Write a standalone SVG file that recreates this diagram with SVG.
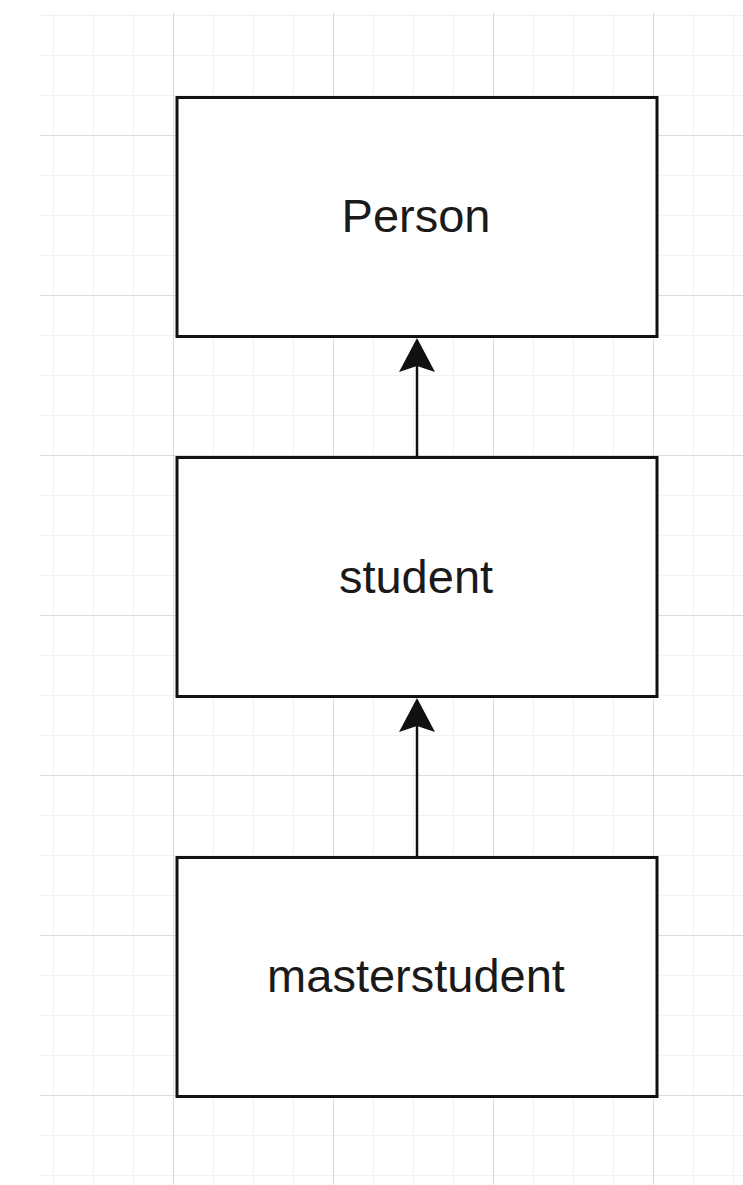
<svg xmlns="http://www.w3.org/2000/svg" width="743" height="1185" viewBox="0 0 743 1185">
  <style>
    .node rect { fill: #ffffff; stroke: #111111; stroke-width: 3; }
    .node text { font-family: "Liberation Sans", Arial, sans-serif; font-size: 47px; fill: #1a1a1a; text-anchor: middle; }
    .edge { stroke: #111111; stroke-width: 2.5; fill: none; }
  </style>
  <defs>
    <pattern id="minor" patternUnits="userSpaceOnUse" x="13" y="15" width="40" height="40">
      <path d="M0,0.5 H40 M0.5,0 V40" stroke="#f2f2f2" stroke-width="1" fill="none"/>
    </pattern>
    <pattern id="major" patternUnits="userSpaceOnUse" x="13" y="-25" width="160" height="160">
      <path d="M0,0.5 H160 M0.5,0 V160" stroke="#dcdcdc" stroke-width="1.2" fill="none"/>
    </pattern>
    <marker id="arrow" markerUnits="userSpaceOnUse" viewBox="0 -18 34 36" markerWidth="34" markerHeight="36" refX="6" refY="0" orient="auto">
      <path d="M34,0 L0,-18 L6,0 L0,18 Z" fill="#111111"/>
    </marker>
  </defs>
  <rect x="0" y="0" width="743" height="1185" fill="#ffffff"/>
  <rect x="40" y="13" width="703" height="1172" fill="url(#minor)"/>
  <rect x="40" y="13" width="703" height="1172" fill="url(#major)"/>

  <g id="connectors">
    <line class="edge" x1="417" y1="457" x2="417" y2="366" marker-end="url(#arrow)"/>
    <line class="edge" x1="417" y1="857" x2="417" y2="726" marker-end="url(#arrow)"/>
  </g>

  <g id="node-person" class="node">
    <rect x="177" y="97.5" width="480" height="239"/>
    <text x="416" y="232">Person</text>
  </g>
  <g id="node-student" class="node">
    <rect x="177" y="457.5" width="480" height="239"/>
    <text x="416" y="593">student</text>
  </g>
  <g id="node-masterstudent" class="node">
    <rect x="177" y="857.5" width="480" height="239"/>
    <text x="416" y="992">masterstudent</text>
  </g>
</svg>
